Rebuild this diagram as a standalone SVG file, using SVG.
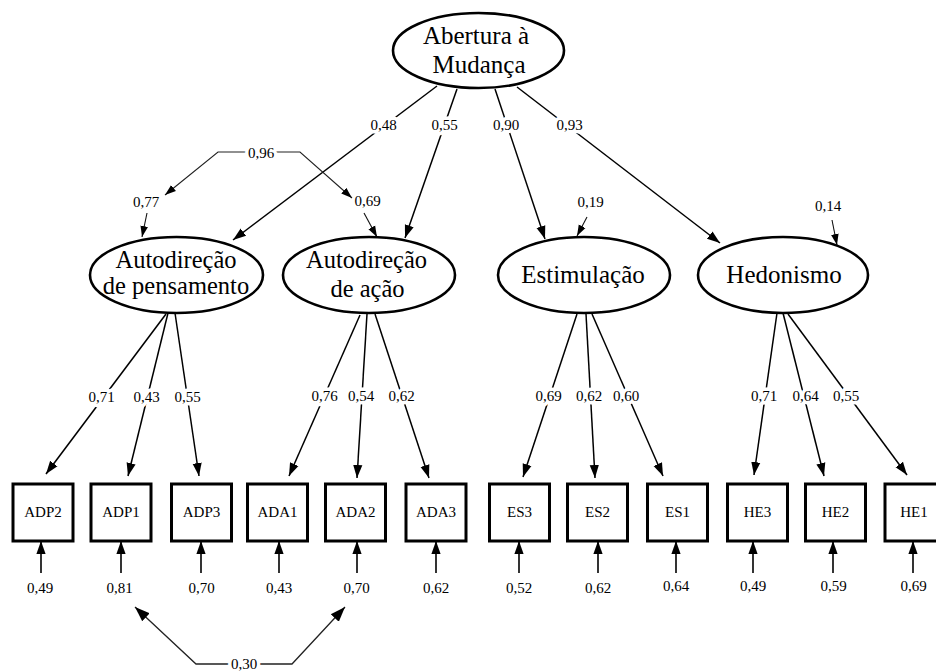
<svg xmlns="http://www.w3.org/2000/svg" width="936" height="672" viewBox="0 0 936 672" font-family="'Liberation Serif', Tinos, 'Times New Roman', 'DejaVu Serif', serif">
  <style>
    text { font-family: "Liberation Serif", Tinos, "Times New Roman", "DejaVu Serif", serif; fill: #000; text-anchor: middle; }
    .lv ellipse { fill: #fff; stroke: #000; stroke-width: 2.6; }
    .lv text { font-size: 25px; }
    .lv .two { font-size: 24.5px; }
    .ob rect { fill: #fff; stroke: #000; stroke-width: 3; }
    .ob text { font-size: 15px; }
    .num { font-size: 15px; }
    .halo { paint-order: stroke; stroke: #fff; stroke-width: 7px; stroke-linejoin: round; }
    .ld { stroke: #000; stroke-width: 1.5; fill: none; marker-end: url(#ah); }
    .er { stroke: #000; stroke-width: 1.6; fill: none; marker-end: url(#ah); }
    .ds { stroke: #111; stroke-width: 1.1; fill: none; marker-end: url(#ahs); }
    .cv { stroke: #222; stroke-width: 1.1; fill: none; marker-start: url(#ahs); marker-end: url(#ahs); }
    .cvb { stroke: #222; stroke-width: 1.3; fill: none; marker-start: url(#ahb); marker-end: url(#ahb); }
  </style>
  <defs>
    <marker id="ah" markerUnits="userSpaceOnUse" markerWidth="14" markerHeight="12" viewBox="0 0 14 12" refX="13" refY="6" orient="auto">
      <path d="M0,1.4 L13,6 L0,10.6 z" fill="#000"/>
    </marker>
    <marker id="ahs" markerUnits="userSpaceOnUse" markerWidth="12" markerHeight="10" viewBox="0 0 12 10" refX="11" refY="5" orient="auto-start-reverse">
      <path d="M0,1.2 L11,5 L0,8.8 z" fill="#000"/>
    </marker>
    <marker id="ahb" markerUnits="userSpaceOnUse" markerWidth="16" markerHeight="14" viewBox="0 0 16 14" refX="15" refY="7" orient="auto-start-reverse">
      <path d="M0,1.5 L15,7 L0,12.5 z" fill="#000"/>
    </marker>
  </defs>

  <!-- paths, covariances and residual arrows -->
  <g id="connectors">
    <!-- second-order loadings -->
    <line class="ld" x1="437" y1="86" x2="233" y2="240"/>
    <line class="ld" x1="457" y1="89" x2="405" y2="238"/>
    <line class="ld" x1="495" y1="89" x2="545" y2="239"/>
    <line class="ld" x1="517" y1="87" x2="720" y2="243"/>

    <!-- disturbances -->
    <line class="ds" x1="147" y1="213" x2="142" y2="237"/>
    <line class="ds" x1="364" y1="213" x2="377" y2="237"/>
    <line class="ds" x1="587" y1="217" x2="577" y2="236"/>
    <line class="ds" x1="832" y1="220" x2="837" y2="245"/>

    <!-- disturbance covariance -->
    <path class="cv" d="M165,195 L218,152 L300,152 L352,198"/>

    <!-- first-order loadings -->
    <line class="ld" x1="166" y1="314" x2="46" y2="474"/>
    <line class="ld" x1="168" y1="313" x2="128" y2="476"/>
    <line class="ld" x1="175" y1="313" x2="199" y2="476"/>
    <line class="ld" x1="360" y1="315" x2="289" y2="476"/>
    <line class="ld" x1="367" y1="314" x2="357" y2="478"/>
    <line class="ld" x1="375" y1="314" x2="429" y2="478"/>
    <line class="ld" x1="577" y1="314" x2="523" y2="477"/>
    <line class="ld" x1="586" y1="314" x2="595" y2="478"/>
    <line class="ld" x1="592" y1="314" x2="663" y2="476"/>
    <line class="ld" x1="777" y1="313" x2="754" y2="475"/>
    <line class="ld" x1="783" y1="313" x2="824" y2="476"/>
    <line class="ld" x1="788" y1="314" x2="907" y2="475"/>

    <!-- measurement errors -->
    <line class="er" x1="41" y1="573" x2="41" y2="541"/>
    <line class="er" x1="121" y1="573" x2="121" y2="541"/>
    <line class="er" x1="201" y1="573" x2="201" y2="541"/>
    <line class="er" x1="279" y1="573" x2="279" y2="541"/>
    <line class="er" x1="357" y1="573" x2="357" y2="541"/>
    <line class="er" x1="436" y1="573" x2="436" y2="541"/>
    <line class="er" x1="519" y1="573" x2="519" y2="541"/>
    <line class="er" x1="598" y1="573" x2="598" y2="541"/>
    <line class="er" x1="676" y1="573" x2="676" y2="541"/>
    <line class="er" x1="753" y1="573" x2="753" y2="541"/>
    <line class="er" x1="833" y1="573" x2="833" y2="541"/>
    <line class="er" x1="913" y1="573" x2="913" y2="541"/>

    <!-- error covariance -->
    <path class="cvb" d="M135,607 L196,664 L292,664 L345,607"/>

    <!-- coefficient labels -->
    <g class="num">
      <text class="halo" x="383.5" y="130">0,48</text>
      <text class="halo" x="444.5" y="130">0,55</text>
      <text class="halo" x="506" y="130">0,90</text>
      <text class="halo" x="569.5" y="130">0,93</text>

      <text class="halo" x="261" y="158">0,96</text>
      <text x="146" y="207">0,77</text>
      <text x="367.5" y="206">0,69</text>
      <text x="590.5" y="207">0,19</text>
      <text x="828" y="211">0,14</text>

      <text class="halo" x="101.5" y="401.5">0,71</text>
      <text class="halo" x="146.5" y="401.5">0,43</text>
      <text class="halo" x="187.5" y="401.5">0,55</text>
      <text class="halo" x="324.5" y="401">0,76</text>
      <text class="halo" x="361" y="401">0,54</text>
      <text class="halo" x="401.5" y="401">0,62</text>
      <text class="halo" x="548.5" y="400.5">0,69</text>
      <text class="halo" x="589" y="400.5">0,62</text>
      <text class="halo" x="626" y="400.5">0,60</text>
      <text class="halo" x="764" y="401">0,71</text>
      <text class="halo" x="805.5" y="400.5">0,64</text>
      <text class="halo" x="846" y="400.5">0,55</text>

      <text x="40" y="593">0,49</text>
      <text x="119.5" y="593">0,81</text>
      <text x="201.5" y="593">0,70</text>
      <text x="279" y="593">0,43</text>
      <text x="356.5" y="593">0,70</text>
      <text x="436" y="593">0,62</text>
      <text x="519" y="592.5">0,52</text>
      <text x="598" y="593">0,62</text>
      <text x="676" y="590.5">0,64</text>
      <text x="753" y="590.5">0,49</text>
      <text x="833.5" y="590.5">0,59</text>
      <text x="913.5" y="590.5">0,69</text>

      <text class="halo" x="244" y="668.5">0,30</text>
    </g>
  </g>

  <!-- latent variables -->
  <g id="abertura" class="lv">
    <ellipse cx="478.5" cy="50.5" rx="85.5" ry="37.5"/>
    <text x="476" y="44">Abertura à</text>
    <text x="479" y="73">Mudança</text>
  </g>
  <g id="adp" class="lv">
    <ellipse cx="176.5" cy="275" rx="86.5" ry="38"/>
    <text class="two" x="176" y="268">Autodireção</text>
    <text class="two" x="176" y="294">de pensamento</text>
  </g>
  <g id="ada" class="lv">
    <ellipse cx="369" cy="275" rx="86" ry="38"/>
    <text class="two" x="366.5" y="268">Autodireção</text>
    <text class="two" x="367.5" y="297">de ação</text>
  </g>
  <g id="es" class="lv">
    <ellipse cx="584" cy="275" rx="86" ry="38"/>
    <text x="583" y="283">Estimulação</text>
  </g>
  <g id="he" class="lv">
    <ellipse cx="783" cy="275" rx="85" ry="38"/>
    <text x="784" y="283">Hedonismo</text>
  </g>

  <!-- observed indicators -->
  <g id="ADP2" class="ob"><rect x="13" y="484" width="60" height="57"/><text x="43" y="517">ADP2</text></g>
  <g id="ADP1" class="ob"><rect x="91" y="484" width="60" height="57"/><text x="121" y="517">ADP1</text></g>
  <g id="ADP3" class="ob"><rect x="171.5" y="484" width="60" height="57"/><text x="201.5" y="517">ADP3</text></g>
  <g id="ADA1" class="ob"><rect x="247.5" y="484" width="60" height="57"/><text x="277.5" y="517">ADA1</text></g>
  <g id="ADA2" class="ob"><rect x="325.5" y="484" width="60" height="57"/><text x="355.5" y="517">ADA2</text></g>
  <g id="ADA3" class="ob"><rect x="406" y="484" width="60" height="57"/><text x="436" y="517">ADA3</text></g>
  <g id="ES3" class="ob"><rect x="489.5" y="484" width="60" height="57"/><text x="519.5" y="517">ES3</text></g>
  <g id="ES2" class="ob"><rect x="567.5" y="484" width="60" height="57"/><text x="597.5" y="517">ES2</text></g>
  <g id="ES1" class="ob"><rect x="647.5" y="484" width="60" height="57"/><text x="677.5" y="517">ES1</text></g>
  <g id="HE3" class="ob"><rect x="727.5" y="484" width="60" height="57"/><text x="757.5" y="517">HE3</text></g>
  <g id="HE2" class="ob"><rect x="805.5" y="484" width="60" height="57"/><text x="835.5" y="517">HE2</text></g>
  <g id="HE1" class="ob"><rect x="885" y="484" width="60" height="57"/><text x="914" y="517">HE1</text></g>
</svg>
